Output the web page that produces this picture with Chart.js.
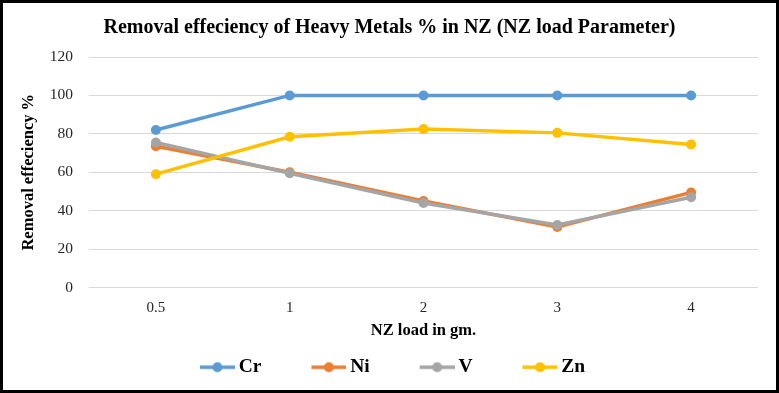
<!DOCTYPE html>
<html lang="en">
<head>
  <meta charset="UTF-8" />
  <title>Removal effeciency of Heavy Metals % in NZ</title>
  <script src="https://cdn.jsdelivr.net/npm/chart.js"></script>
  <style>
    body { margin: 0; background: #fff; }
    #wrap { width: 779px; height: 393px; box-sizing: border-box; border: 3px solid #000; background: #fff; }
    canvas { display: block; }
  </style>
</head>
<body>

<div id="wrap"><canvas id="nzChart" width="773" height="387"></canvas></div>

<script>
// data
const loads = ["0.5", "1", "2", "3", "4"];
const crVals = [82, 100, 100, 100, 100];
const niVals = [73.5, 60, 45, 31.5, 49.5];
const vVals = [75.5, 59.5, 44, 32.5, 47];
const znVals = [59, 78.5, 82.5, 80.5, 74.5];
const yTicks = [0, 20, 40, 60, 80, 100, 120];

const serif = "'Liberation Serif', 'Times New Roman', serif";

// little line-with-dot marker for the legend (Excel style)
function legendMarker(color) {
  const c = document.createElement('canvas');
  c.width = 81; c.height = 12;
  const g = c.getContext('2d');
  g.strokeStyle = color; g.lineWidth = 3.5;
  g.beginPath(); g.moveTo(46, 6); g.lineTo(81, 6); g.stroke();
  g.fillStyle = color;
  g.beginPath(); g.arc(63.5, 6, 5, 0, Math.PI * 2); g.fill();
  return c;
}

function series(label, data, color, order) {
  return {
    label: label,
    data: data,
    borderColor: color,
    backgroundColor: color,
    pointBackgroundColor: color,
    pointBorderColor: color,
    borderWidth: 3.5,
    pointRadius: 5,
    pointBorderWidth: 0,
    tension: 0,
    order: order,
    marker: legendMarker(color)
  };
}

// legend sits a bit left of centre in the original
const legendNudge = {
  id: 'legendNudge',
  afterLayout(chart) {
    chart.legend.left -= 17;
    chart.legend.right -= 17;
  }
};

new Chart(document.getElementById("nzChart"), {
  type: 'line',
  data: {
    labels: loads,
    datasets: [
      series("Cr", crVals, '#5B9BD5', 4),
      series("Ni", niVals, '#ED7D31', 3),
      series("V", vVals, '#A5A5A5', 2),
      series("Zn", znVals, '#FFC000', 1)
    ]
  },
  options: {
    responsive: false,
    animation: false,
    layout: { padding: { top: 0, right: 18, bottom: 3, left: 18 } },
    plugins: {
      tooltip: { enabled: false },
      title: {
        display: true,
        text: "Removal effeciency of Heavy Metals % in NZ (NZ load Parameter)",
        color: '#000',
        font: { family: serif, size: 20, weight: 'bold' },
        padding: { top: 13, bottom: 17 }
      },
      legend: {
        position: 'bottom',
        labels: {
          usePointStyle: true,
          pointStyleWidth: 69,
          padding: 10,
          color: '#000',
          font: { family: serif, size: 19.5, weight: 'bold' },
          sort: (a, b) => a.datasetIndex - b.datasetIndex,
          generateLabels(chart) {
            return chart.data.datasets.map((ds, i) => ({
              text: ds.label,
              datasetIndex: i,
              pointStyle: ds.marker,
              fillStyle: ds.borderColor,
              strokeStyle: ds.borderColor,
              lineWidth: 0,
              fontColor: '#000',
              hidden: false
            }));
          }
        }
      }
    },
    scales: {
      x: {
        offset: true,
        grid: { display: false, drawTicks: false },
        border: { display: false },
        ticks: { color: '#262626', padding: 12, font: { family: serif, size: 15 } },
        title: {
          display: true,
          text: "NZ load in gm.",
          color: '#000',
          font: { family: serif, size: 16.5, weight: 'bold' },
          padding: { top: 8, bottom: 7 }
        },
        afterFit(scale) { scale.height = 60; }
      },
      y: {
        min: 0,
        max: 120,
        afterBuildTicks(scale) { scale.ticks = yTicks.map(v => ({ value: v })); },
        grid: { color: '#d9d9d9', lineWidth: 1, drawTicks: false },
        border: { display: false },
        ticks: { color: '#262626', padding: 16, font: { family: serif, size: 15.5 } },
        title: {
          display: true,
          text: "Removal effeciency %",
          color: '#000',
          font: { family: serif, size: 16.5, weight: 'bold' },
          padding: { top: -2, bottom: 0 }
        },
        afterFit(scale) { scale.width = 68; }
      }
    }
  },
  plugins: [legendNudge]
});
</script>

</body>
</html>
